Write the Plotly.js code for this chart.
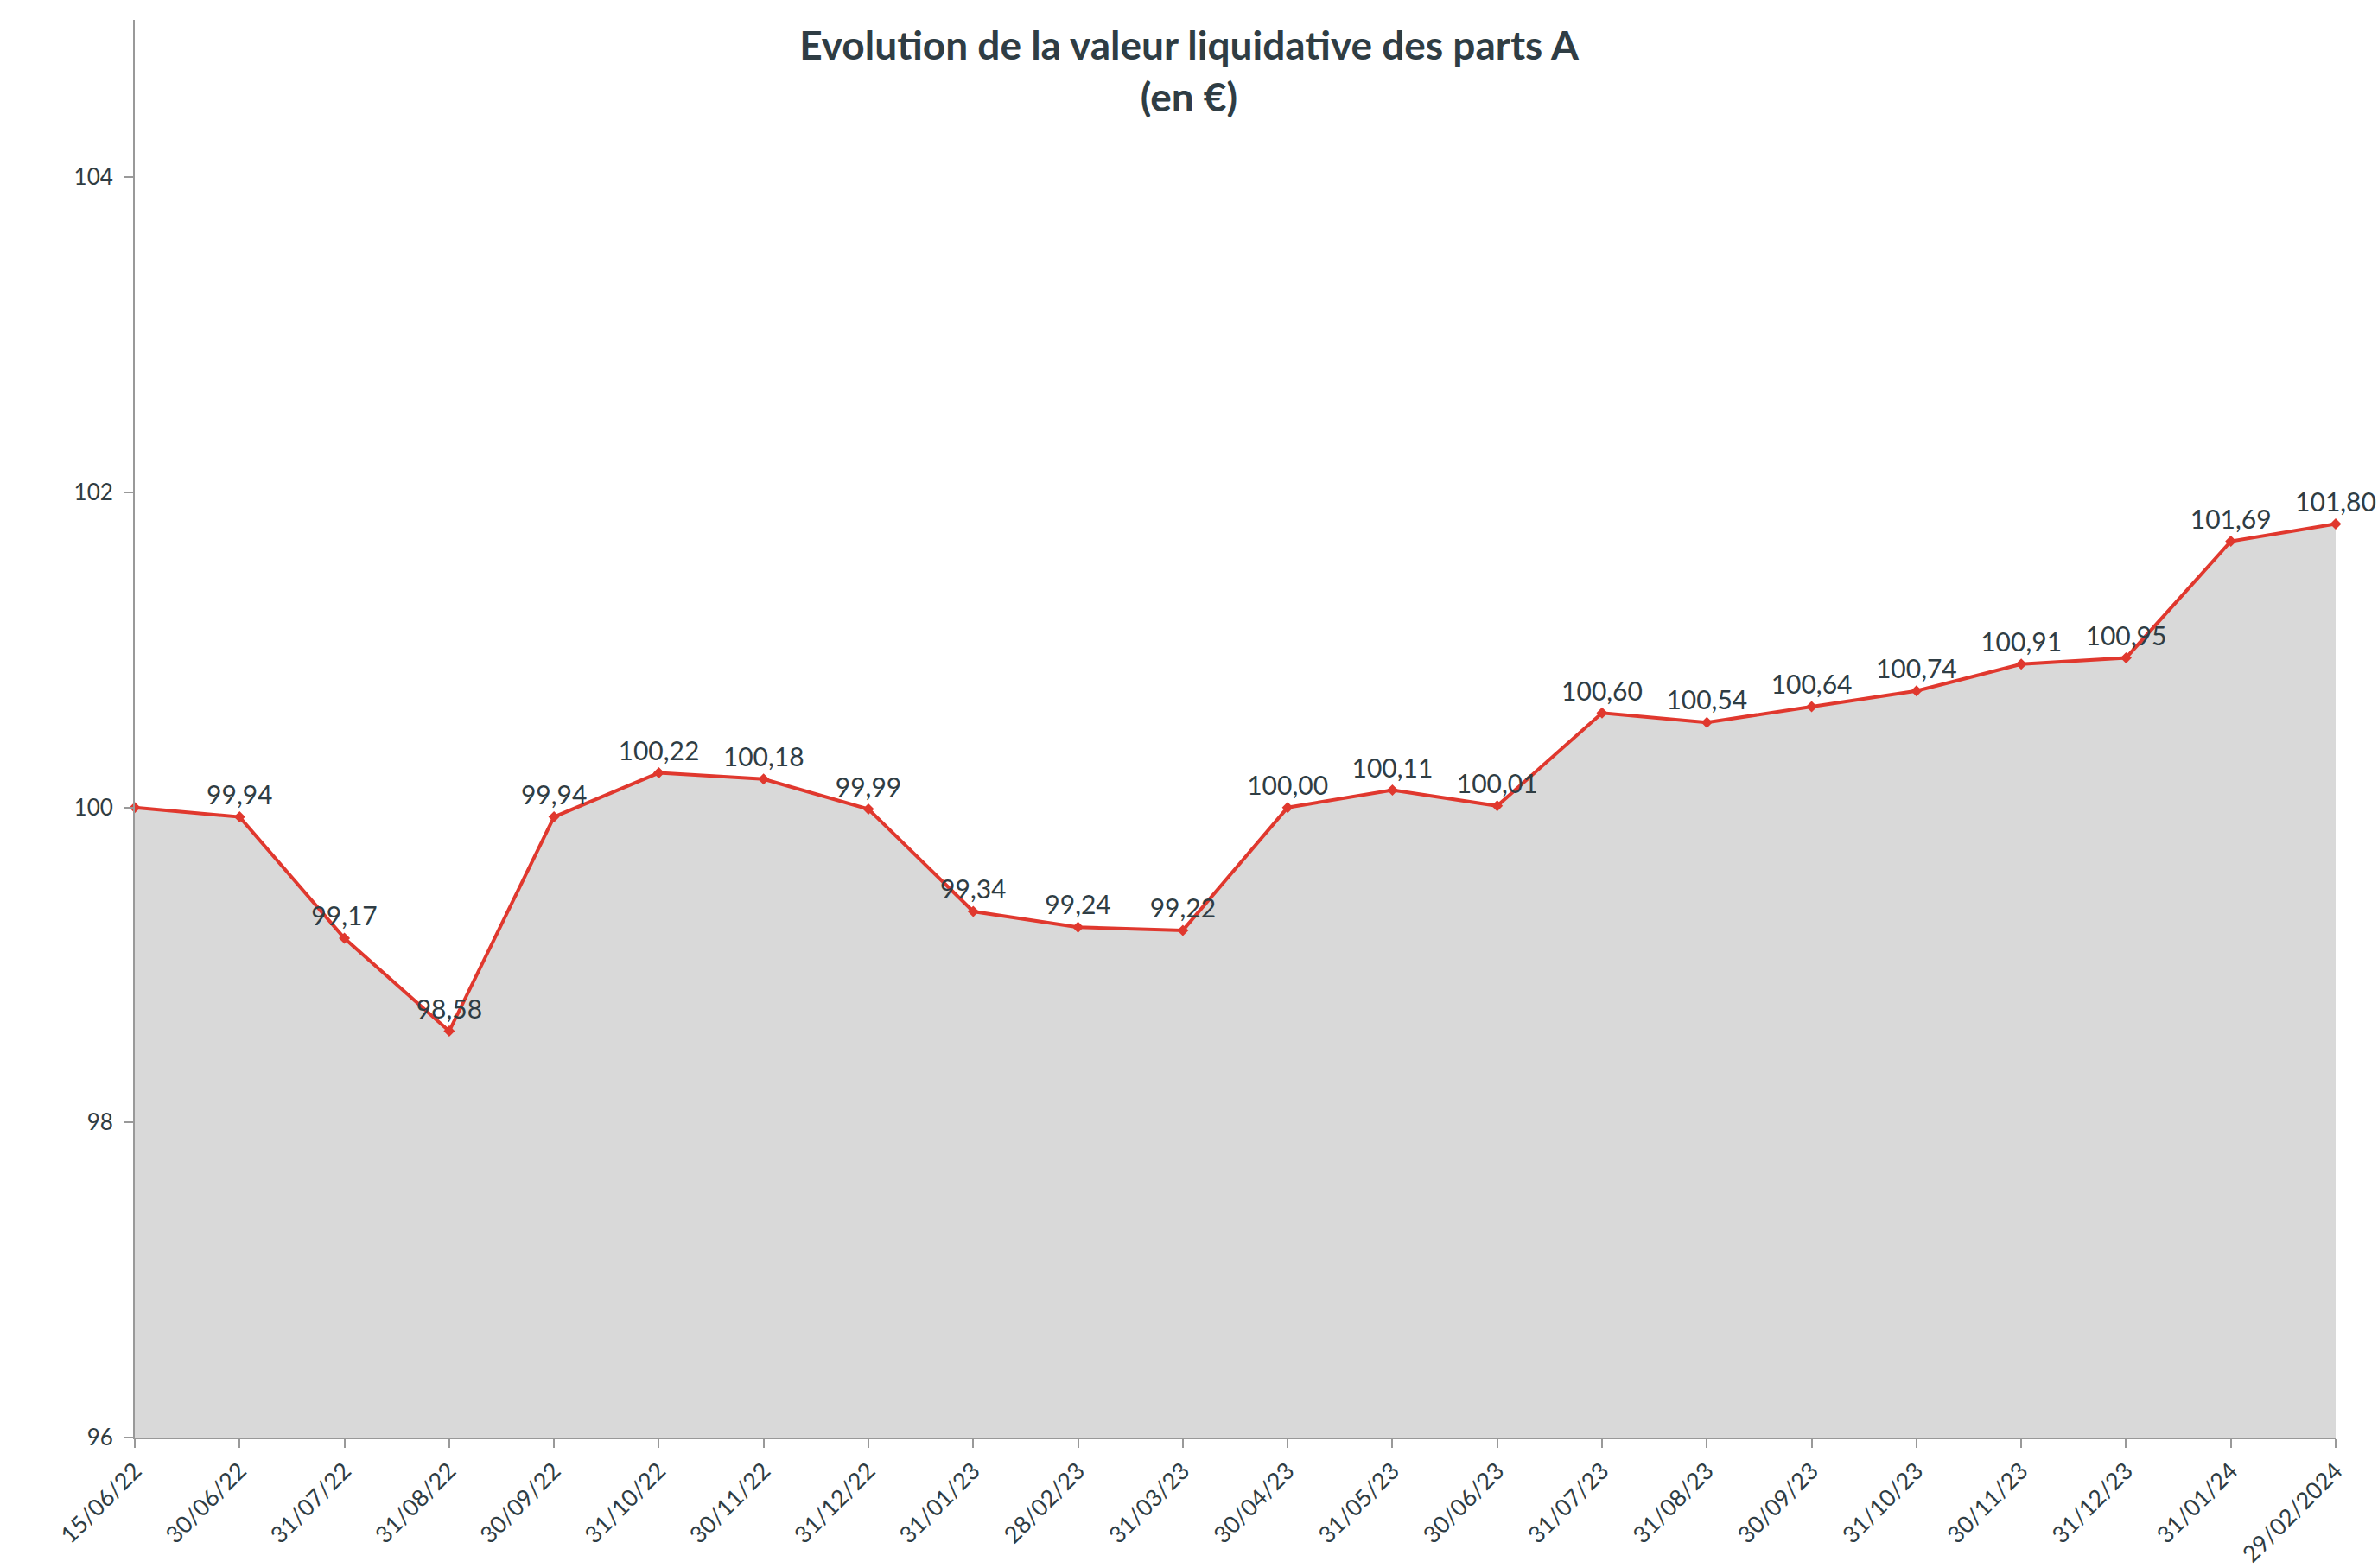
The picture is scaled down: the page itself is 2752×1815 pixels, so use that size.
<!DOCTYPE html>
<html>
<head>
<meta charset="utf-8">
<script src="https://cdn.plot.ly/plotly-3.0.1.min.js"></script>
<style>html,body{margin:0;padding:0;background:#fff;}#chart{width:2752px;height:1815px;}</style>
</head>
<body>
<div id="chart"></div>
<script>
const dates = ["15/06/22","30/06/22","31/07/22","31/08/22","30/09/22","31/10/22","30/11/22","31/12/22","31/01/23","28/02/23","31/03/23","30/04/23","31/05/23","30/06/23","31/07/23","31/08/23","30/09/23","31/10/23","30/11/23","31/12/23","31/01/24","29/02/2024"];
const values = [100.00,99.94,99.17,98.58,99.94,100.22,100.18,99.99,99.34,99.24,99.22,100.00,100.11,100.01,100.60,100.54,100.64,100.74,100.91,100.95,101.69,101.80];
const showLabel = [false,true,true,true,true,true,true,true,true,true,true,true,true,true,true,true,true,true,true,true,true,true];
const yTicks = [96,98,100,102,104];

const labels = values.map((v,i)=> showLabel[i] ? v.toFixed(2).replace('.',',') : '');
const txtColor = '#2f3d44';
const axisColor = '#999999';

const trace = {
  x: dates, y: values, type: 'scatter', mode: 'lines+markers+text',
  fill: 'tozeroy', fillcolor: '#d9d9d9',
  line: {color: '#e0382e', width: 4},
  marker: {symbol: 'diamond', size: 10, color: '#e0382e'},
  text: labels, textposition: 'top center',
  textfont: {family: 'Lato, sans-serif', size: 30, color: txtColor},
  cliponaxis: false, hoverinfo: 'skip'
};

const layout = {
  width: 2752, height: 1815,
  margin: {l: 156, r: 49, t: 23, b: 151},
  paper_bgcolor: '#ffffff', plot_bgcolor: '#ffffff',
  showlegend: false,
  title: {
    text: '<b>Evolution de la valeur liquidative des parts A<br>(en €)</b>',
    font: {family: 'Lato, sans-serif', size: 46, color: txtColor},
    x: 0.5, xanchor: 'center', y: 0.962, yanchor: 'top'
  },
  xaxis: {
    type: 'category', range: [0, dates.length - 1],
    showgrid: false, zeroline: false,
    showline: true, linecolor: axisColor, linewidth: 2,
    ticks: 'outside', ticklen: 10, tickwidth: 2, tickcolor: axisColor,
    tickangle: -45,
    tickfont: {family: 'Lato, sans-serif', size: 27, color: txtColor}
  },
  yaxis: {
    range: [96, 105], tickvals: yTicks, ticktext: yTicks.map(String),
    showgrid: false, zeroline: false,
    showline: true, linecolor: axisColor, linewidth: 2,
    ticks: 'outside', ticklen: 10, tickwidth: 2, tickcolor: axisColor,
    tickfont: {family: 'Lato, sans-serif', size: 26, color: txtColor},
    ticklabelstandoff: 8
  }
};

Plotly.newPlot('chart', [trace], layout, {displayModeBar: false, staticPlot: true});
</script>
</body>
</html>
